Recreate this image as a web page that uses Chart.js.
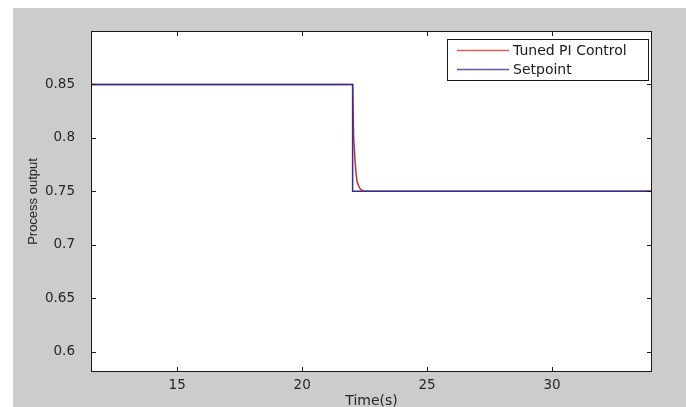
<!DOCTYPE html>
<html>
<head>
<meta charset="utf-8">
<script src="https://cdn.jsdelivr.net/npm/chart.js@4.4.0/dist/chart.umd.min.js"></script>
<style>
html, body { margin: 0; padding: 0; background: #fff; }
#wrap { width: 686px; height: 407px; position: relative; }
</style>
</head>
<body>
<div id="wrap"><canvas id="stepChart"></canvas></div>
<script>
// values
const seriesLabels = ['Tuned PI Control', 'Setpoint'];
const setpointTime = [11.55, 22.02, 22.02, 34];
const setpointValue = [0.85, 0.85, 0.75, 0.75];
const processTime = [11.55, 22.02, 22.06, 22.09, 22.12, 22.16, 22.2, 22.26, 22.33, 22.42, 22.52, 34];
const processValue = [0.85, 0.85, 0.80, 0.789, 0.777, 0.766, 0.759, 0.755, 0.752, 0.7507, 0.75, 0.75];
const xTicks = [15, 20, 25, 30];
const yTicks = [0.6, 0.65, 0.7, 0.75, 0.8, 0.85];

const redColor = '#d02c2c';
const blueColor = '#30309a';

function toPoints(xs, ys) {
    return xs.map(function(x, i) { return { x: x, y: ys[i] }; });
}

const backgroundPlugin = {
    id: 'figureBackground',
    beforeDraw: function(chart) {
        const ctx = chart.ctx;
        const a = chart.chartArea;
        ctx.save();
        ctx.fillStyle = '#ffffff';
        ctx.fillRect(0, 0, chart.width, chart.height);
        ctx.fillStyle = '#cccccc';
        ctx.fillRect(13, 8, chart.width - 13, chart.height - 8);
        ctx.fillStyle = '#ffffff';
        ctx.fillRect(a.left, a.top, a.right - a.left, a.bottom - a.top);
        ctx.restore();
    }
};

// matlab style box with inward ticks on all four sides
const framePlugin = {
    id: 'boxFrame',
    afterDatasetsDraw: function(chart) {
        const ctx = chart.ctx;
        const a = chart.chartArea;
        const xs = chart.scales.x;
        const ys = chart.scales.y;
        const len = 5;
        ctx.save();
        ctx.strokeStyle = '#1a1a1a';
        ctx.lineWidth = 1;
        ctx.strokeRect(a.left + 0.5, a.top + 0.5, a.right - a.left - 1, a.bottom - a.top - 1);
        ctx.beginPath();
        xTicks.forEach(function(v) {
            const px = Math.round(xs.getPixelForValue(v)) + 0.5;
            ctx.moveTo(px, a.bottom);
            ctx.lineTo(px, a.bottom - len);
            ctx.moveTo(px, a.top);
            ctx.lineTo(px, a.top + len);
        });
        yTicks.forEach(function(v) {
            const py = Math.round(ys.getPixelForValue(v)) + 0.5;
            ctx.moveTo(a.left, py);
            ctx.lineTo(a.left + len, py);
            ctx.moveTo(a.right, py);
            ctx.lineTo(a.right - len, py);
        });
        ctx.stroke();
        ctx.restore();
    }
};

const legendBoxPlugin = {
    id: 'legendBox',
    afterDraw: function(chart) {
        const ctx = chart.ctx;
        const items = [
            { label: seriesLabels[0], color: '#d86060', y: 50.5 },
            { label: seriesLabels[1], color: '#5a5aa6', y: 69.5 }
        ];
        ctx.save();
        ctx.fillStyle = '#ffffff';
        ctx.fillRect(447.5, 39.5, 201, 41);
        ctx.strokeStyle = '#1a1a1a';
        ctx.lineWidth = 1;
        ctx.strokeRect(447.5, 39.5, 201, 41);
        ctx.font = '14px "DejaVu Sans"';
        ctx.textBaseline = 'middle';
        ctx.textAlign = 'left';
        items.forEach(function(item) {
            ctx.strokeStyle = item.color;
            ctx.lineWidth = 1.5;
            ctx.beginPath();
            ctx.moveTo(457, item.y);
            ctx.lineTo(509, item.y);
            ctx.stroke();
            ctx.fillStyle = '#1a1a1a';
            ctx.fillText(item.label, 513, item.y + 1);
        });
        ctx.restore();
    }
};

const ctx = document.getElementById('stepChart').getContext('2d');
new Chart(ctx, {
    type: 'line',
    data: {
        datasets: [{
            label: seriesLabels[0],
            data: toPoints(processTime, processValue),
            borderColor: redColor,
            borderWidth: 1.5,
            pointRadius: 0,
            tension: 0,
            order: 1
        }, {
            label: seriesLabels[1],
            data: toPoints(setpointTime, setpointValue),
            borderColor: blueColor,
            borderWidth: 1.5,
            pointRadius: 0,
            tension: 0,
            order: 0
        }]
    },
    options: {
        responsive: true,
        maintainAspectRatio: false,
        animation: false,
        layout: { padding: { top: 31, right: 34, left: 0, bottom: 0 } },
        plugins: {
            legend: { display: false },
            tooltip: { enabled: false }
        },
        scales: {
            x: {
                type: 'linear',
                min: 11.55,
                max: 34,
                afterBuildTicks: function(scale) {
                    scale.ticks = xTicks.map(function(v) { return { value: v }; });
                },
                afterFit: function(scale) { scale.height = 35; },
                grid: { display: false },
                border: { display: false },
                ticks: {
                    padding: -3,
                    color: '#262626',
                    font: { family: 'DejaVu Sans', size: 13.5 },
                    maxRotation: 0,
                    callback: function(v) { return String(v); }
                },
                title: {
                    display: true,
                    text: 'Time(s)',
                    color: '#262626',
                    font: { family: 'DejaVu Sans', size: 14, lineHeight: 1 },
                    padding: { top: 0, bottom: -1 }
                }
            },
            y: {
                min: 0.581,
                max: 0.9,
                afterBuildTicks: function(scale) {
                    scale.ticks = yTicks.map(function(v) { return { value: v }; });
                },
                afterFit: function(scale) { scale.width = 91; },
                grid: { display: false },
                border: { display: false },
                ticks: {
                    padding: 8,
                    color: '#262626',
                    font: { family: 'DejaVu Sans', size: 13.5 },
                    callback: function(v) { return String(v); }
                },
                title: {
                    display: true,
                    text: 'Process output',
                    color: '#262626',
                    font: { family: 'Liberation Sans', size: 13, lineHeight: 1 },
                    padding: { top: 26.5, bottom: 0 }
                }
            }
        }
    },
    plugins: [backgroundPlugin, framePlugin, legendBoxPlugin]
});
</script>
</body>
</html>
